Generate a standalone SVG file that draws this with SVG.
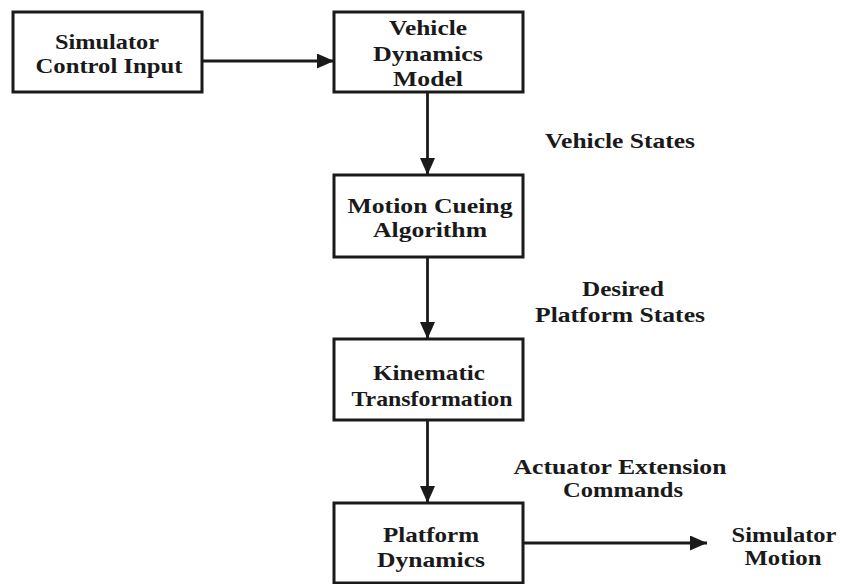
<svg xmlns="http://www.w3.org/2000/svg" width="845" height="584" viewBox="0 0 845 584">
  <style>
    .box { fill: #ffffff; stroke: #1a1a1a; stroke-width: 3; }
    .wire { fill: none; stroke: #1a1a1a; stroke-width: 2.8; }
    text { font-family: "Liberation Serif", "Times New Roman", serif; font-weight: bold; font-size: 22px; fill: #1a1a1a; text-anchor: middle; }
  </style>
  <defs>
    <marker id="arrow" markerWidth="17" markerHeight="15" refX="17" refY="7.5" orient="auto" markerUnits="userSpaceOnUse">
      <path d="M0,0 L17,7.5 L0,15 Z" fill="#1a1a1a"/>
    </marker>
  </defs>
  <rect width="845" height="584" fill="#ffffff"/>

  <g id="connectors">
    <line class="wire" x1="202" y1="61" x2="334" y2="61" marker-end="url(#arrow)"/>
    <line class="wire" x1="427.5" y1="92" x2="427.5" y2="175" marker-end="url(#arrow)"/>
    <line class="wire" x1="427.5" y1="257" x2="427.5" y2="339" marker-end="url(#arrow)"/>
    <line class="wire" x1="427.5" y1="420" x2="427.5" y2="503" marker-end="url(#arrow)"/>
    <line class="wire" x1="523" y1="543" x2="707" y2="543" marker-end="url(#arrow)"/>
  </g>

  <g id="simulator-control-input">
    <rect class="box" x="13" y="12" width="189" height="80"/>
    <text x="107" y="49" textLength="104" lengthAdjust="spacingAndGlyphs">Simulator</text>
    <text x="109" y="73" textLength="147" lengthAdjust="spacingAndGlyphs">Control Input</text>
  </g>

  <g id="vehicle-dynamics-model">
    <rect class="box" x="334" y="12" width="189" height="80"/>
    <text x="428" y="35" textLength="78" lengthAdjust="spacingAndGlyphs">Vehicle</text>
    <text x="428" y="61" textLength="110" lengthAdjust="spacingAndGlyphs">Dynamics</text>
    <text x="428" y="86" textLength="70" lengthAdjust="spacingAndGlyphs">Model</text>
  </g>

  <g id="motion-cueing-algorithm">
    <rect class="box" x="334" y="175" width="189" height="82"/>
    <text x="430" y="213" textLength="165" lengthAdjust="spacingAndGlyphs">Motion Cueing</text>
    <text x="430" y="237" textLength="114" lengthAdjust="spacingAndGlyphs">Algorithm</text>
  </g>

  <g id="kinematic-transformation">
    <rect class="box" x="334" y="339" width="189" height="81"/>
    <text x="429" y="380" textLength="112" lengthAdjust="spacingAndGlyphs">Kinematic</text>
    <text x="432" y="406" textLength="161" lengthAdjust="spacingAndGlyphs">Transformation</text>
  </g>

  <g id="platform-dynamics">
    <rect class="box" x="334" y="503" width="189" height="80"/>
    <text x="431" y="542" textLength="96" lengthAdjust="spacingAndGlyphs">Platform</text>
    <text x="431" y="567" textLength="108" lengthAdjust="spacingAndGlyphs">Dynamics</text>
  </g>

  <g id="labels">
    <text x="620" y="148" textLength="150" lengthAdjust="spacingAndGlyphs">Vehicle States</text>
    <text x="623" y="296" textLength="82" lengthAdjust="spacingAndGlyphs">Desired</text>
    <text x="620" y="322" textLength="170" lengthAdjust="spacingAndGlyphs">Platform States</text>
    <text x="620" y="474" textLength="213" lengthAdjust="spacingAndGlyphs">Actuator Extension</text>
    <text x="623" y="497" textLength="120" lengthAdjust="spacingAndGlyphs">Commands</text>
    <text x="784" y="542" textLength="105" lengthAdjust="spacingAndGlyphs">Simulator</text>
    <text x="783" y="565" textLength="77" lengthAdjust="spacingAndGlyphs">Motion</text>
  </g>
</svg>
